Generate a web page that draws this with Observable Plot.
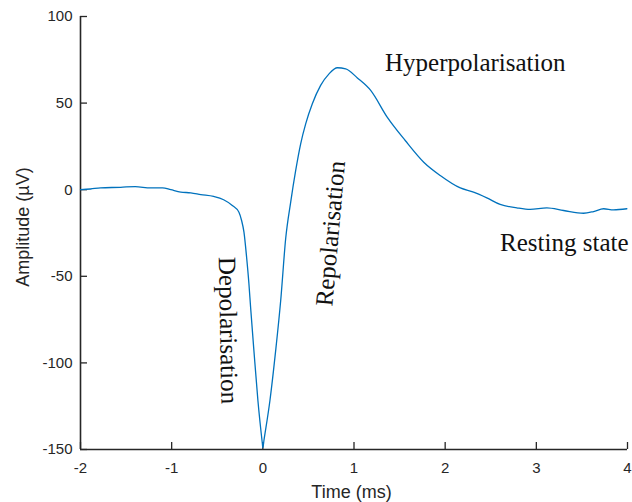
<!DOCTYPE html>
<html>
<head>
<meta charset="utf-8">
<script src="https://cdn.jsdelivr.net/npm/d3@7"></script>
<script src="https://cdn.jsdelivr.net/npm/@observablehq/plot@0.6"></script>
<style>
  body { margin: 0; background: #fff; }
</style>
</head>
<body>
<div id="chart"></div>
<script>
// Extracellular action potential waveform (time in ms, amplitude in µV)
const timeMs = [
  -2.00, -1.89, -1.78, -1.56, -1.40, -1.23, -1.10, -1.01, -0.90, -0.79,
  -0.68, -0.54, -0.43, -0.335, -0.262, -0.233, -0.207, -0.178, -0.153, -0.134,
  -0.098, -0.054, -0.005, 0.00, 0.012, 0.078, 0.141, 0.196, 0.251, 0.306,
  0.360, 0.415, 0.470, 0.543, 0.634, 0.726, 0.818, 0.909, 1.037, 1.183,
  1.364, 1.562, 1.765, 1.946, 2.166, 2.311, 2.457, 2.603, 2.786, 2.932,
  3.115, 3.299, 3.518, 3.628, 3.738, 3.847, 3.993
];
const amplitudeUv = [
  0, 0.4, 1.1, 1.4, 1.8, 1.0, 1.1, 0, -1.4, -1.8,
  -2.8, -3.9, -5.8, -9.1, -13, -17.8, -24.5, -39, -54, -68,
  -92.8, -121.7, -146.7, -149, -144.8, -121.7, -92.8, -64, -28, -7,
  11, 26.5, 38, 49.6, 60.2, 66.9, 70.4, 69.8, 64.5, 57.3,
  41.9, 28.4, 15.9, 8.2, 1, -1.4, -4.7, -8.5, -10.5, -11.4,
  -10.5, -12, -13.6, -12.6, -11, -11.6, -11
];

const xTicks = [-2, -1, 0, 1, 2, 3, 4];
const yTicks = [-150, -100, -50, 0, 50, 100];

const phaseDepol = "Depolarisation";
const phaseRepol = "Repolarisation";
const phaseHyper = "Hyperpolarisation";
const phaseRest = "Resting state";

const waveform = timeMs.map((t, i) => ({t, v: amplitudeUv[i]}));

const W = 632, H = 502;
const M = {left: 80, right: 5, top: 16, bottom: 53};
const plotW = W - M.left - M.right;
const plotH = H - M.top - M.bottom;
const tickLen = 7;

const axisColor = "#262626";
const serif = "'Liberation Serif', 'Times New Roman', serif";
const annot = {fontFamily: serif, fontSize: 25, fill: "#111", lineAnchor: "middle", textAnchor: "middle"};
const fmt = d => String(d); // plain hyphen-minus, integer labels

const chart = Plot.plot({
  width: W,
  height: H,
  marginLeft: M.left,
  marginRight: M.right,
  marginTop: M.top,
  marginBottom: M.bottom,
  style: {fontFamily: "'Liberation Sans', Arial, sans-serif", fontSize: "15px", color: axisColor, background: "#fff"},
  x: {domain: [-2, 4]},
  y: {domain: [-150, 100]},
  marks: [
    // tick labels only; the tick marks point inward and are drawn below
    Plot.axisY({ticks: yTicks, tickSize: 0, tickPadding: 8, tickFormat: fmt, label: null, fill: axisColor}),
    Plot.axisX({ticks: xTicks, tickSize: 0, tickPadding: 13, tickFormat: fmt, label: null, fill: axisColor}),
    Plot.tickY(yTicks, {y: d => d, insetRight: plotW - tickLen, stroke: axisColor, strokeWidth: 1.3}),
    Plot.tickX(xTicks, {x: d => d, insetTop: plotH - tickLen, stroke: axisColor, strokeWidth: 1.3}),
    Plot.ruleX([-2], {stroke: axisColor, strokeWidth: 1.6}),
    Plot.ruleY([-150], {stroke: axisColor, strokeWidth: 1.6}),
    Plot.line(waveform, {x: "t", y: "v", stroke: "#0072BD", strokeWidth: 1.3, curve: "monotone-x"}),
    Plot.text([phaseHyper], {...annot, x: 2.33, y: 72.9}),
    Plot.text([phaseRest], {...annot, x: 3.307, y: -30.5}),
    Plot.text([phaseDepol], {...annot, x: -0.381, y: -81.3, rotate: 89}),
    Plot.text([phaseRepol], {...annot, x: 0.744, y: -25.3, rotate: -85}),
    Plot.text(["Amplitude (µV)"], {frameAnchor: "left", textAnchor: "middle", rotate: -90, dx: -57, dy: -6, fontSize: 18, fill: axisColor, lineAnchor: "middle"}),
    Plot.text(["Time (ms)"], {frameAnchor: "bottom", textAnchor: "middle", dx: -2.5, dy: 43, fontSize: 18, fill: axisColor, lineAnchor: "middle"})
  ]
});

document.getElementById("chart").append(chart);
</script>
</body>
</html>
